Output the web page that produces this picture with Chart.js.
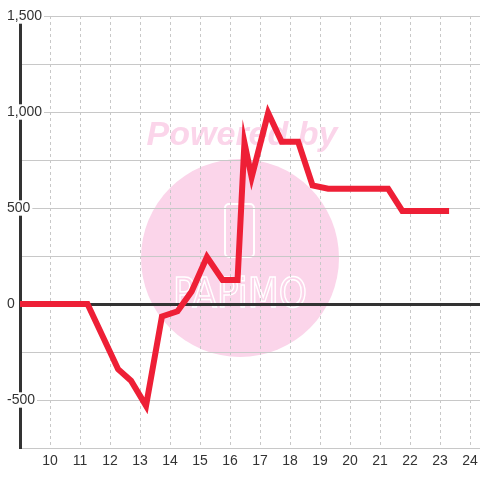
<!DOCTYPE html>
<html><head><meta charset="utf-8">
<script src="https://cdn.jsdelivr.net/npm/chart.js@4/dist/chart.umd.min.js"></script>
<style>html,body{margin:0;padding:0;background:#fff}#wrap{width:480px;height:480px}</style>
</head><body><div id="wrap"><canvas id="c" width="480" height="480"></canvas></div>
<script>
// ---- data ----
const hours  = [9, 11.25, 12.27, 12.7, 13.2, 13.73, 14.25, 14.72, 15.23, 15.75, 16.25, 16.48, 16.72, 17.27, 17.72, 18.27, 18.75, 19.27, 21.27, 21.74, 23.3];
const values = [0, 0, -340, -400, -530, -65, -38, 65, 245, 125, 125, 840, 660, 995, 845, 845, 618, 600, 600, 485, 485];
const xTicks = [10, 11, 12, 13, 14, 15, 16, 17, 18, 19, 20, 21, 22, 23, 24];
const yTicks = [-750, -500, -250, 0, 250, 500, 750, 1000, 1250, 1500];
const yLabelled = [-500, 0, 500, 1000, 1500];

const FONT = '"Liberation Sans", Arial, sans-serif';

const watermark = {
  id: 'watermark',
  beforeDraw(chart) {
    const ctx = chart.ctx;
    ctx.save();
    ctx.fillStyle = '#ffffff';
    ctx.fillRect(0, 0, chart.width, chart.height);
    ctx.fillStyle = '#fbd5ea';
    ctx.beginPath();
    ctx.arc(240, 258, 99, 0, Math.PI * 2);
    ctx.fill();
    ctx.font = 'italic bold 34px ' + FONT;
    ctx.textAlign = 'center';
    ctx.textBaseline = 'alphabetic';
    ctx.fillText('Powered by', 242, 145);
    // logo
    ctx.strokeStyle = '#ffffff';
    ctx.lineWidth = 2;
    ctx.beginPath();
    if (ctx.roundRect) ctx.roundRect(225, 204, 29, 53, 4); else ctx.rect(225, 204, 29, 53);
    ctx.stroke();
    ctx.font = '40px "DejaVu Sans", sans-serif';
    const w = ctx.measureText('PAPiMO').width;
    ctx.translate(240, 307);
    ctx.scale(134 / w, 1);
    ctx.lineWidth = 1.5;
    ctx.strokeText('PAPiMO', 0, 0);
    ctx.restore();
  }
};

new Chart(document.getElementById('c'), {
  type: 'line',
  data: {
    datasets: [{
      data: hours.map((h, i) => ({ x: h, y: values[i] })),
      borderColor: '#ee1f36',
      borderWidth: 6,
      pointRadius: 0,
      tension: 0,
      fill: false
    }]
  },
  options: {
    responsive: false,
    animation: false,
    devicePixelRatio: 1,
    layout: { padding: { left: 7, top: 16, right: 0, bottom: 0 } },
    plugins: { legend: { display: false }, tooltip: { enabled: false } },
    scales: {
      x: {
        type: 'linear',
        min: 9,
        max: 24.33,
        afterFit: s => { s.height = 32; s.paddingLeft = 0; s.paddingRight = 0; },
        afterBuildTicks: s => { s.ticks = xTicks.map(v => ({ value: v })); },
        ticks: {
          autoSkip: false, maxRotation: 0, padding: 5,
          color: '#333', font: { family: FONT, size: 14 },
          callback: v => String(v)
        },
        grid: { drawTicks: false, color: '#c8c8c8', lineWidth: 1 },
        border: { display: false, dash: [3, 3] }
      },
      y: {
        min: -750,
        max: 1500,
        afterFit: s => { s.width = 13; s.paddingTop = 0; s.paddingBottom = 0; },
        afterBuildTicks: s => { s.ticks = yTicks.map(v => ({ value: v })); },
        ticks: {
          mirror: true, crossAlign: 'near', padding: -13,
          color: '#333', font: { family: FONT, size: 14, lineHeight: 1.1 },
          callback: v => yLabelled.includes(v) ? v.toLocaleString('en-US') : '',
          showLabelBackdrop: c => !!(c.tick && yLabelled.includes(c.tick.value)),
          backdropColor: '#ffffff',
          backdropPadding: { top: 0, bottom: 0, left: 2, right: 2 }
        },
        grid: {
          drawTicks: false,
          color: c => (c.tick && c.tick.value === 0) ? '#333333' : '#c8c8c8',
          lineWidth: c => (c.tick && c.tick.value === 0) ? 3 : 1
        },
        border: { display: true, color: '#333333', width: 3 }
      }
    }
  },
  plugins: [watermark]
});
</script>
</body></html>
